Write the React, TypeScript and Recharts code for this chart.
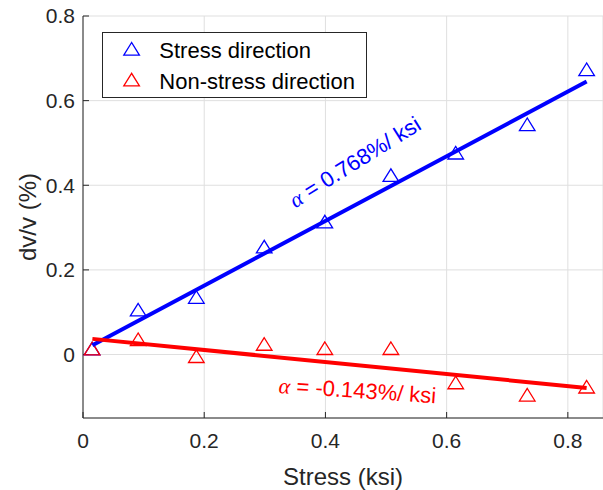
import React from 'react';
import {
  ComposedChart,
  Scatter,
  XAxis,
  YAxis,
  CartesianGrid,
  Legend,
  ReferenceDot,
} from 'recharts';

// ---- data ----
const stressX = [0.015, 0.091, 0.187, 0.299, 0.399, 0.508, 0.615, 0.733, 0.831];
const stressDir = [0.014, 0.106, 0.136, 0.255, 0.314, 0.424, 0.477, 0.544, 0.674];
const nonStressDir = [0.014, 0.036, -0.004, 0.025, 0.015, 0.015, -0.066, -0.095, -0.076];

const fitX = [0.0155, 0.831];
const stressFit = [0.022, 0.645];
const nonStressFit = [0.037, -0.079];

const xTicks = [0, 0.2, 0.4, 0.6, 0.8];
const yTicks = [0, 0.2, 0.4, 0.6, 0.8];

const seriesNames = ['Stress direction', 'Non-stress direction'];
const seriesColors = ['#0000ff', '#ff0000'];

const annotationText = ['0.768%/ ksi', '-0.143%/ ksi'];
const annotationX = [0.4485, 0.453];
const annotationY = [0.455, -0.085];
const annotationAngle = [-32, 4];

const stressData = stressX.map((x, i) => ({ x, y: stressDir[i] }));
const nonStressData = stressX.map((x, i) => ({ x, y: nonStressDir[i] }));
const stressFitData = fitX.map((x, i) => ({ x, y: stressFit[i] }));
const nonStressFitData = fitX.map((x, i) => ({ x, y: nonStressFit[i] }));

const FONT = '"Liberation Sans", Arial, Helvetica, sans-serif';
const AXIS = '#262626';

const triPoints = (cx: number, cy: number) =>
  `${cx},${cy - 6.3} ${cx - 7.8},${cy + 6.3} ${cx + 7.8},${cy + 6.3}`;

const makeTriangle = (color: string) => (props: any) => {
  const { cx, cy } = props;
  if (cx == null || cy == null) return <g />;
  return (
    <polygon
      points={triPoints(cx, cy)}
      fill="none"
      stroke={color}
      strokeWidth={1.3}
      strokeLinejoin="miter"
    />
  );
};

const NoShape = () => <g />;

const makeAnnotation = (i: number) => (props: any) => {
  const { cx, cy } = props;
  if (cx == null || cy == null) return <g />;
  return (
    <text
      x={cx}
      y={cy}
      transform={`rotate(${annotationAngle[i]}, ${cx}, ${cy})`}
      textAnchor="middle"
      dominantBaseline="central"
      fill={seriesColors[i]}
      fontFamily={FONT}
      fontSize={22}
    >
      <tspan fontFamily='"Liberation Serif", "DejaVu Serif", serif' fontStyle="italic">
        α
      </tspan>
      {' = ' + annotationText[i]}
    </text>
  );
};

const LegendBox = () => (
  <svg width={265} height={66} style={{ display: 'block' }}>
    <rect x={0.5} y={0.5} width={264} height={65} fill="#ffffff" stroke={AXIS} strokeWidth={1} />
    {seriesNames.map((name, i) => {
      const cy = 16.8 + i * 30.8;
      return (
        <g key={name}>
          <polygon
            points={triPoints(29.6, cy)}
            fill="none"
            stroke={seriesColors[i]}
            strokeWidth={1.3}
          />
          <text
            x={57.3}
            y={cy + 1.5}
            dominantBaseline="central"
            fontFamily={FONT}
            fontSize={22}
            fill="#000000"
          >
            {name}
          </text>
        </g>
      );
    })}
  </svg>
);

const XLabel = (props: any) => {
  const vb = props.viewBox || {};
  return (
    <text
      x={vb.x + vb.width / 2}
      y={476}
      textAnchor="middle"
      dominantBaseline="central"
      fontFamily={FONT}
      fontSize={24}
      fill={AXIS}
    >
      Stress (ksi)
    </text>
  );
};

const YLabel = (props: any) => {
  const vb = props.viewBox || {};
  const cx = 27;
  const cy = vb.y + vb.height / 2;
  return (
    <text
      x={cx}
      y={cy}
      transform={`rotate(-90, ${cx}, ${cy})`}
      textAnchor="middle"
      dominantBaseline="central"
      fontFamily={FONT}
      fontSize={24}
      fill={AXIS}
    >
      dv/v (%)
    </text>
  );
};

export default function App() {
  return (
    <div style={{ position: 'absolute', left: 0, top: 0, background: '#ffffff' }}>
      <ComposedChart
        width={603}
        height={490}
        margin={{ top: 16, right: 0, bottom: 0, left: 0 }}
      >
        <CartesianGrid stroke="#dfdfdf" strokeWidth={1} />
        <XAxis
          type="number"
          dataKey="x"
          domain={[0, 0.858]}
          ticks={xTicks}
          allowDataOverflow
          height={72}
          tickSize={-6}
          tickMargin={21}
          axisLine={{ stroke: AXIS, strokeWidth: 1 }}
          tickLine={{ stroke: AXIS, strokeWidth: 1 }}
          tick={{ fontSize: 21, fill: AXIS, fontFamily: FONT }}
          tickFormatter={(v: number) => String(v)}
          label={<XLabel />}
        />
        <YAxis
          type="number"
          dataKey="y"
          domain={[-0.15, 0.8]}
          ticks={yTicks}
          allowDataOverflow
          width={83}
          tickSize={-6}
          tickMargin={14}
          axisLine={{ stroke: AXIS, strokeWidth: 1 }}
          tickLine={{ stroke: AXIS, strokeWidth: 1 }}
          tick={{ fontSize: 21, fill: AXIS, fontFamily: FONT }}
          tickFormatter={(v: number) => String(v)}
          label={<YLabel />}
        />
        <Legend
          layout="vertical"
          align="center"
          verticalAlign="middle"
          wrapperStyle={{ left: 102, top: 32, width: 265, height: 66 }}
          content={() => <LegendBox />}
        />
        <Scatter
          name={seriesNames[0]}
          data={stressData}
          shape={makeTriangle(seriesColors[0])}
          isAnimationActive={false}
        />
        <Scatter
          name={seriesNames[1]}
          data={nonStressData}
          shape={makeTriangle(seriesColors[1])}
          isAnimationActive={false}
        />
        <Scatter
          data={stressFitData}
          line={{ stroke: seriesColors[0], strokeWidth: 4 }}
          shape={NoShape}
          legendType="none"
          isAnimationActive={false}
        />
        <Scatter
          data={nonStressFitData}
          line={{ stroke: seriesColors[1], strokeWidth: 4 }}
          shape={NoShape}
          legendType="none"
          isAnimationActive={false}
        />
        <ReferenceDot
          x={annotationX[0]}
          y={annotationY[0]}
          r={0}
          shape={makeAnnotation(0)}
        />
        <ReferenceDot
          x={annotationX[1]}
          y={annotationY[1]}
          r={0}
          shape={makeAnnotation(1)}
        />
      </ComposedChart>
    </div>
  );
}
